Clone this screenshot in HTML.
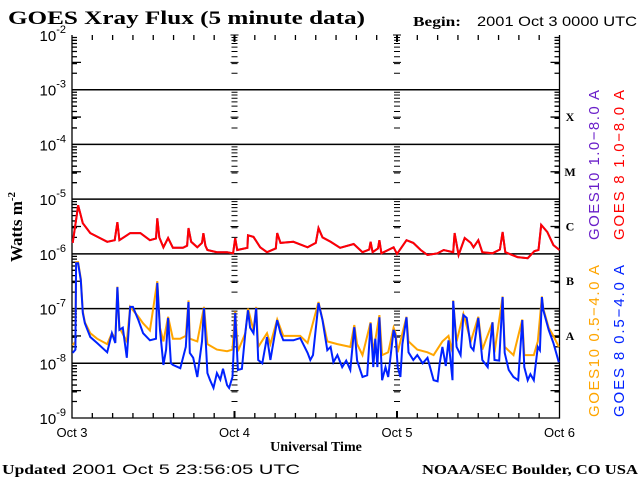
<!DOCTYPE html>
<html><head><meta charset="utf-8"><style>
body{margin:0;background:#fff}
svg{display:block}
.sr{font-family:"Liberation Serif",serif;font-weight:bold}
.ss{font-family:"Liberation Sans",sans-serif}
</style></head><body>
<svg id="chart" width="640" height="480" xmlns="http://www.w3.org/2000/svg">
<text class="sr" x="8" y="24" font-size="19" textLength="357" lengthAdjust="spacingAndGlyphs">GOES Xray Flux (5 minute data)</text>
<text class="sr" x="413" y="26" font-size="14" textLength="48" lengthAdjust="spacingAndGlyphs">Begin:</text>
<text class="ss" x="477" y="26" font-size="14" textLength="160" lengthAdjust="spacingAndGlyphs">2001 Oct 3 0000 UTC</text>
<text class="sr" x="2" y="474" font-size="14" textLength="64" lengthAdjust="spacingAndGlyphs">Updated</text>
<text class="ss" x="72" y="474" font-size="14" textLength="228" lengthAdjust="spacingAndGlyphs">2001 Oct  5 23:56:05 UTC</text>
<text class="sr" x="422" y="474" font-size="14" textLength="216" lengthAdjust="spacingAndGlyphs">NOAA/SEC Boulder, CO USA</text>
<text class="sr" x="316" y="451" font-size="14" text-anchor="middle">Universal Time</text>
<text class="sr" font-size="17" transform="translate(22,227) rotate(-90)" text-anchor="middle">Watts m<tspan dy="-7" font-size="11">-2</tspan></text>
<g id="axes"></g>
<g id="series"></g>
<g>
<text class="ss" font-size="15" fill="#6a1fc9" transform="translate(599,240) rotate(-90)" textLength="150">GOES10 1.0−8.0 A</text>
<text class="ss" font-size="15" fill="#ff0000" transform="translate(624,240) rotate(-90)" textLength="150">GOES 8 1.0−8.0 A</text>
<text class="ss" font-size="15" fill="#ffa500" transform="translate(599,417) rotate(-90)" textLength="152">GOES10 0.5−4.0 A</text>
<text class="ss" font-size="15" fill="#0022ff" transform="translate(624,417) rotate(-90)" textLength="152">GOES 8 0.5−4.0 A</text>
</g>
</svg>
<script>
const decades=[-2,-3,-4,-5,-6,-7,-8,-9];
const dayLabels=["Oct 3","Oct 4","Oct 5","Oct 6"];
const flareClasses=["X","M","C","B","A"];
const flareClassLog=[-3.5,-4.5,-5.5,-6.5,-7.5];
const longHours=[0.1,0.7,0.9,1.2,1.6,2.7,4.1,5.2,6.3,6.7,7.0,8.6,10.1,11.5,12.4,12.6,12.9,13.5,14.2,14.9,16.4,17.0,17.2,17.6,18.5,19.2,19.4,19.7,20.0,21.4,22.9,23.8,24.1,24.4,25.9,26.0,26.8,27.8,28.8,30.1,30.3,30.8,32.7,34.8,36.0,36.4,37.0,38.2,39.6,41.6,42.9,43.9,44.1,44.4,45.2,45.4,45.7,47.5,48.0,48.3,49.4,50.4,51.5,52.5,54.0,54.9,56.3,56.5,57.1,58.0,58.9,59.3,60.0,60.6,62.1,63.2,63.6,64.0,65.8,67.3,68.3,68.9,69.3,70.2,71.1,72];
const longLog=[-5.80,-5.30,-5.11,-5.25,-5.44,-5.62,-5.71,-5.78,-5.75,-5.42,-5.75,-5.62,-5.62,-5.75,-5.72,-5.35,-5.70,-5.88,-5.71,-5.89,-5.89,-5.85,-5.53,-5.78,-5.88,-5.80,-5.62,-5.85,-5.93,-5.97,-5.97,-5.99,-5.71,-5.93,-5.89,-5.66,-5.69,-5.88,-5.97,-5.90,-5.62,-5.80,-5.78,-5.88,-5.80,-5.53,-5.70,-5.78,-5.89,-5.82,-5.97,-5.92,-5.78,-5.97,-5.90,-5.75,-5.99,-5.88,-6.00,-5.95,-5.75,-5.80,-5.93,-6.02,-5.99,-5.93,-5.97,-5.62,-6.02,-5.71,-5.80,-5.88,-5.75,-5.97,-5.99,-5.92,-5.60,-5.97,-6.06,-6.08,-5.95,-5.93,-5.47,-5.60,-5.84,-5.93];
const g8ShortHours=[0.1,0.5,0.6,0.9,1.3,1.6,1.9,2.7,3.7,5.2,5.9,6.4,6.7,7.0,7.5,8.1,8.6,9.0,9.8,10.5,11.5,12.4,12.6,13.0,13.5,13.9,14.2,14.6,14.9,16.0,16.8,17.2,17.4,17.9,18.5,19.2,19.5,20.0,20.4,20.9,21.4,21.9,22.3,22.9,23.2,23.7,23.9,24.1,24.5,25.1,25.6,26.0,26.3,26.8,27.2,27.5,28.1,28.8,29.3,30.3,30.8,31.2,32.7,33.7,34.8,35.2,35.6,36.4,37.0,37.7,38.2,38.6,39.2,39.9,40.5,41.1,41.7,42.1,42.9,43.6,44.1,44.5,44.8,45.1,45.4,45.8,46.3,46.7,47.5,47.8,48.1,48.5,48.8,49.4,49.7,50.4,51.0,51.8,52.5,53.4,54.0,54.3,54.7,55.2,55.6,56.2,56.3,56.8,57.4,57.8,58.3,58.9,59.3,60.0,60.6,61.4,62.1,62.4,63.1,63.6,63.9,64.5,65.2,65.9,66.5,66.8,67.3,67.7,68.2,68.8,69.1,69.4,69.6,70.4,71.1,71.9];
const g8ShortLog=[-7.81,-7.75,-6.17,-6.17,-6.48,-7.08,-7.27,-7.52,-7.63,-7.80,-7.45,-7.63,-6.61,-7.39,-7.35,-7.90,-6.97,-6.97,-7.21,-7.45,-7.58,-7.55,-6.53,-7.39,-8.03,-7.75,-7.17,-8.00,-8.03,-8.09,-7.70,-6.88,-7.81,-7.90,-8.25,-7.60,-6.99,-8.18,-8.31,-8.45,-8.18,-8.30,-8.10,-8.40,-8.45,-8.25,-7.70,-7.08,-8.12,-8.10,-7.45,-7.03,-7.35,-7.45,-6.99,-7.94,-8.00,-7.52,-7.94,-7.21,-7.45,-7.58,-7.58,-7.54,-7.81,-7.94,-7.85,-6.90,-7.21,-7.76,-7.70,-7.98,-7.85,-8.07,-7.95,-8.12,-7.34,-7.95,-8.25,-8.22,-7.27,-8.07,-7.55,-8.07,-7.16,-8.31,-8.07,-8.25,-7.39,-7.50,-8.07,-8.25,-7.65,-7.16,-7.80,-7.94,-7.85,-8.00,-7.90,-8.31,-8.33,-8.00,-7.70,-8.05,-7.58,-8.31,-6.86,-7.70,-7.85,-7.12,-7.17,-7.70,-7.76,-7.17,-7.94,-8.07,-7.25,-7.94,-7.95,-6.79,-7.81,-8.12,-8.25,-8.31,-7.21,-8.07,-8.31,-8.20,-8.31,-7.70,-7.76,-6.79,-7.03,-7.39,-7.63,-7.98];
const g10ShortHours=[0.1,0.5,0.6,0.9,1.3,1.6,1.9,2.7,3.7,5.2,5.9,6.4,6.7,7.0,8.1,8.6,9.8,10.5,11.5,12.6,13.0,13.5,14.2,14.9,16.0,16.8,17.2,17.4,18.5,19.5,20.0,21.4,22.9,23.7,24.1,24.5,25.6,26.0,26.8,27.2,27.5,28.8,29.3,30.3,31.2,33.7,34.8,36.4,37.0,37.7,39.2,41.1,41.7,42.1,42.9,44.1,44.5,45.4,45.8,46.7,47.5,47.8,48.1,49.4,49.7,51.0,52.5,53.4,54.7,55.6,56.2,56.3,56.8,57.8,58.9,60.0,60.6,62.1,62.4,63.6,63.9,65.2,66.5,66.8,68.2,68.8,69.4,69.6,70.4,71.1,71.9];
const g10ShortLog=[-7.67,-7.6,-6.15,-6.15,-6.45,-7.05,-7.25,-7.45,-7.55,-7.65,-7.45,-7.55,-6.6,-7.35,-7.6,-6.97,-7.15,-7.27,-7.4,-6.5,-7.35,-7.6,-7.15,-7.55,-7.55,-7.5,-6.85,-7.55,-7.6,-6.97,-7.65,-7.75,-7.78,-7.75,-7.05,-7.78,-7.45,-7.0,-7.4,-6.97,-7.7,-7.45,-7.65,-7.2,-7.5,-7.5,-7.63,-6.88,-7.2,-7.6,-7.65,-7.7,-7.3,-7.65,-7.85,-7.25,-7.8,-7.12,-7.85,-7.8,-7.35,-7.45,-7.8,-7.15,-7.6,-7.75,-7.8,-7.85,-7.6,-7.5,-7.8,-6.85,-7.6,-7.1,-7.6,-7.15,-7.75,-7.25,-7.8,-6.78,-7.7,-7.85,-7.2,-7.85,-7.85,-7.6,-6.78,-7.0,-7.35,-7.5,-7.7];

const X0=72,X1=559.5,Y0=35,Y1=418;
const xS=h=>X0+(X1-X0)*h/72;
const yS=l=>Y0+(Y1-Y0)*(-2-l)/7;
const NS="http://www.w3.org/2000/svg";
function mk(tag,attrs,parent){const e=document.createElementNS(NS,tag);for(const k in attrs)e.setAttribute(k,attrs[k]);parent.appendChild(e);return e;}
const axes=document.getElementById('axes');
let d=`M${X0},${Y0}V${Y1}H${X1}V${Y0}`;
let dd="";
[0,24,48,72].forEach(h=>{
  const x=xS(h);
  const edge=(h===0||h===72);
  const mn=edge?5:3, mj=edge?9:4;
  decades.forEach((dec,i)=>{
    if(i<decades.length-1){
      let s="";
      for(let m=2;m<=9;m++){const yy=yS(dec-1+Math.log10(m));
        if(h<72)s+=`M${x},${yy}h${mn}`; if(h>0)s+=`M${x},${yy}h-${mn}`;}
      const ym=yS(dec-0.5);
      if(h<72)s+=`M${x},${ym}h${mj}`; if(h>0)s+=`M${x},${ym}h-${mj}`;
      if(!edge){s+=`M${x},${yS(dec)}h${mj}M${x},${yS(dec)}h-${mj}`;}
      if(edge)d+=s; else dd+=s;
    }
  });
});
for(let h=3;h<72;h+=3){const x=xS(h);d+=`M${x},${Y1}v-5M${x},${Y0}v5`;}
const frame=mk('path',{d:d,stroke:'#000','stroke-width':1.3,fill:'none'},axes);


const dayTicks=mk('path',{d:dd,stroke:'#000','stroke-width':1,fill:'none'},axes);


[24,48].forEach(h=>{const x=xS(h);
  const ln=mk('path',{d:`M${x},${Y1}v-7M${x},${Y0}v7`,stroke:'#000','stroke-width':2},axes);
  
  
});
decades.forEach((dec,i)=>{
  const y=yS(dec);
  if(i>0&&i<decades.length-1){
    const gl=mk('line',{x1:X0,x2:X1,y1:y,y2:y,stroke:'#000','stroke-width':1.5},axes);
    
    
  }
  const t=mk('text',{x:X0-6,y:y+6,'font-size':15,'text-anchor':'end',class:'ss'},axes);
  
  
  t.innerHTML=`10<tspan dy="-8" font-size="11">${dec}</tspan>`;
});
dayLabels.forEach((s,i)=>{
  const t=mk('text',{x:xS(i*24),y:437,'font-size':13,'text-anchor':'middle',class:'ss'},axes);
  
  
  t.textContent=s;
});
flareClasses.forEach((c,i)=>{
  const t=mk('text',{x:570,y:yS(flareClassLog[i])+4,'font-size':12,'text-anchor':'middle',class:'sr'},axes);
  
  
  t.textContent=c;
});
const ser=document.getElementById('series');
function line(hs,vs,color,w,name){
  let p="";hs.forEach((h,i)=>{p+=(i?"L":"M")+xS(h).toFixed(1)+","+yS(vs[i]).toFixed(1);});
  const e=mk('path',{d:p,stroke:color,'stroke-width':w,fill:'none','stroke-linejoin':'miter'},ser);
  
  
}
line(longHours,longLog,'#6a1fc9',2,'goes10-long-line');
line(longHours,longLog,'#ff0000',2,'goes8-long-line');
line(g10ShortHours,g10ShortLog,'#ffa500',2,'goes10-short-line');
line(g8ShortHours,g8ShortLog,'#0022ff',2,'goes8-short-line');
</script>
</body></html>
